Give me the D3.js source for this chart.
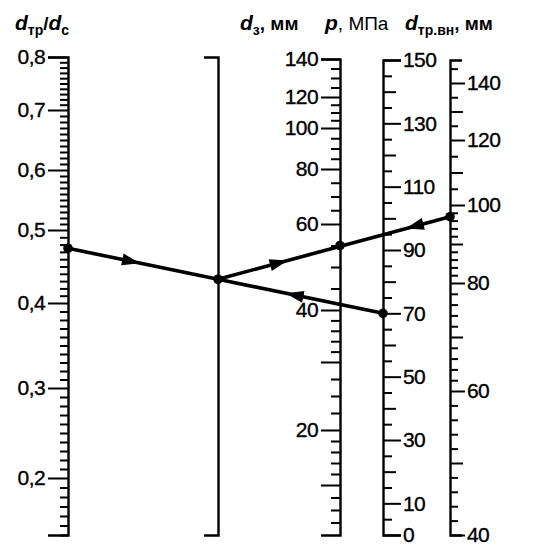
<!DOCTYPE html>
<html>
<head>
<meta charset="utf-8">
<script src="https://cdn.jsdelivr.net/npm/d3@7"></script>
<style>
body { margin: 0; background: #fff; }
text { font-family: "Liberation Sans", Arial, sans-serif; fill: #000; }
</style>
</head>
<body>
<div id="chart"></div>
<script>
// подписанные значения шкал
var ratioLabels = [0.2, 0.3, 0.4, 0.5, 0.6, 0.7, 0.8];
var zLabels = [20, 40, 60, 80, 100, 120, 140];
var pLabels = [0, 10, 30, 50, 70, 90, 110, 130, 150];
var innerLabels = [40, 60, 80, 100, 120, 140];

// промежуточные штрихи
var zMinor = [12, 13, 14, 16, 17, 18, 19, 22.5, 25, 27.5, 32, 34, 36, 38, 45, 50, 55, 65, 70, 75, 85, 90, 95, 105, 110, 115, 125, 130, 135];
var zLongNoLabel = [15, 30];
var pMedium = [20, 40, 60, 80, 100, 120, 140];
var innerMedium = [50, 70, 90, 110, 130];
var innerCoarse = [105, 115, 125, 135, 145];

// пример (ключ)
var keyRatio = 0.475;
var keyZ = 55;
var keyP = 70;
var keyInner = 97;

var width = 557, height = 547;

var svg = d3.select("#chart").append("svg")
    .attr("width", width)
    .attr("height", height);

// положение шкал по горизонтали
var xPos = d3.scaleOrdinal()
    .domain(["ratio", "mid", "z", "p", "inner"])
    .range([68, 218, 340, 383, 450]);

// градуировка шкал (неравномерные)
var yRatio = d3.scaleLinear()
    .domain([0.14, 0.2, 0.3, 0.4, 0.5, 0.6, 0.7, 0.8])
    .range([535, 478, 388, 303, 230, 170, 110, 57]);
var yZ = d3.scaleLinear()
    .domain([11, 15, 20, 30, 40, 60, 80, 100, 120, 140])
    .range([535, 485, 430, 362, 310, 224, 169, 128, 97, 59]);
var yP = d3.scaleLinear()
    .domain([0, 150])
    .range([535, 60]);
var yInner = d3.scaleLinear()
    .domain([40, 60, 80, 100, 120, 140, 148])
    .range([535, 391, 283, 205, 140, 83, 60]);

var comma = function(d) { return String(d).replace(".", ","); };

function drawAxis(axisFn, scale, x, layers, outer) {
    var g = svg.append("g").attr("transform", "translate(" + x + ",0)");
    layers.forEach(function(l, i) {
        var ax = axisFn(scale).tickValues(l.values).tickSize(l.size)
            .tickSizeOuter(outer).tickPadding(l.pad || 3)
            .tickFormat(l.labels ? comma : "");
        var sub = g.append("g").call(ax);
        sub.attr("font-size", null).attr("font-family", null);
        if (i > 0) sub.select(".domain").remove();
        sub.select(".domain").attr("stroke-width", 2.4);
        sub.selectAll(".tick line").attr("stroke-width", 2);
        sub.selectAll(".tick text")
            .style("font-size", "21px")
            .attr("stroke", "#000")
            .attr("stroke-width", 0.35)
            .attr("letter-spacing", -0.6);
    });
    return g;
}

// d_тр/d_с
var ratioMinor = d3.range(14, 81).map(function(d) { return d / 100; })
    .filter(function(d) { return Math.round(d * 100) % 10 !== 0; });
drawAxis(d3.axisLeft, yRatio, xPos("ratio"), [
    { values: ratioMinor, size: 8 },
    { values: ratioLabels, size: 20, labels: true, pad: 3 }
], 20);

// промежуточная шкала
drawAxis(d3.axisLeft, yRatio, xPos("mid"), [{ values: [], size: 0 }], 14);

// d_з
drawAxis(d3.axisLeft, yZ, xPos("z"), [
    { values: zMinor, size: 9 },
    { values: zLongNoLabel, size: 19 },
    { values: zLabels, size: 19, labels: true, pad: 3 }
], 19);

// p
var pMinor = d3.range(5, 150, 10);
drawAxis(d3.axisRight, yP, xPos("p"), [
    { values: pMinor, size: 9 },
    { values: pMedium, size: 13 },
    { values: pLabels, size: 18, labels: true, pad: 2 }
], 18);

// d_тр.вн
var innerMinor = d3.range(42, 100, 2).filter(function(d) { return d % 10 !== 0; }).concat(innerCoarse);
drawAxis(d3.axisRight, yInner, xPos("inner"), [
    { values: innerMinor, size: 8 },
    { values: innerMedium, size: 13 },
    { values: innerLabels, size: 15, labels: true, pad: 2 }
], 12);

// ключ
var ptRatio = [xPos("ratio"), yRatio(keyRatio)];
var ptP = [xPos("p"), yP(keyP)];
var tMid = (xPos("mid") - ptRatio[0]) / (ptP[0] - ptRatio[0]);
var ptMid = [xPos("mid"), ptRatio[1] + tMid * (ptP[1] - ptRatio[1])];
var ptZ = [xPos("z"), yZ(keyZ)];
var ptInner = [xPos("inner"), yInner(keyInner)];

var segments = [[ptRatio, ptMid], [ptP, ptMid], [ptMid, ptInner]];
svg.selectAll("line.key").data(segments).enter().append("line")
    .attr("class", "key")
    .attr("x1", function(d) { return d[0][0]; })
    .attr("y1", function(d) { return d[0][1]; })
    .attr("x2", function(d) { return d[1][0]; })
    .attr("y2", function(d) { return d[1][1]; })
    .attr("stroke", "#000")
    .attr("stroke-width", 3.6);

var arrows = [
    { from: ptRatio, to: ptMid, t: 0.48 },
    { from: ptMid, to: ptInner, t: 0.30 },
    { from: ptInner, to: ptMid, t: 0.19 },
    { from: ptP, to: ptMid, t: 0.59 }
];
svg.selectAll("path.arrow").data(arrows).enter().append("path")
    .attr("class", "arrow")
    .attr("d", "M0,0L-18,-6L-18,6Z")
    .attr("transform", function(d) {
        var x = d.from[0] + d.t * (d.to[0] - d.from[0]);
        var y = d.from[1] + d.t * (d.to[1] - d.from[1]);
        var a = Math.atan2(d.to[1] - d.from[1], d.to[0] - d.from[0]) * 180 / Math.PI;
        return "translate(" + x + "," + y + ") rotate(" + a + ")";
    })
    .attr("fill", "#000");

svg.selectAll("circle.dot").data([ptRatio, ptMid, ptZ, ptP, ptInner]).enter().append("circle")
    .attr("class", "dot")
    .attr("cx", function(d) { return d[0]; })
    .attr("cy", function(d) { return d[1]; })
    .attr("r", 4.8)
    .attr("fill", "#000");

// заголовки шкал
function title(x, parts) {
    var t = svg.append("text").attr("x", x).attr("y", 30).style("font-size", "19px");
    parts.forEach(function(p) {
        t.append("tspan")
            .attr("dy", p.dy || 0)
            .style("font-style", p.it ? "italic" : "normal")
            .style("font-weight", p.b === false ? "normal" : "bold")
            .style("font-size", p.sub ? "14px" : (p.big ? "21px" : "19px"))
            .text(p.s);
    });
}
title(15, [{ s: "d", it: true, big: true }, { s: "тр", sub: true, dy: 5 }, { s: "/", dy: -5 }, { s: "d", it: true, big: true }, { s: "с", sub: true, dy: 5 }]);
title(240, [{ s: "d", it: true, big: true }, { s: "з", sub: true, dy: 5 }, { s: ", мм", dy: -5 }]);
title(325, [{ s: "p", it: true, big: true }, { s: ", МПа", b: false }]);
title(405, [{ s: "d", it: true, big: true }, { s: "тр.вн", sub: true, dy: 5 }, { s: ", мм", dy: -5 }]);
</script>
</body>
</html>
